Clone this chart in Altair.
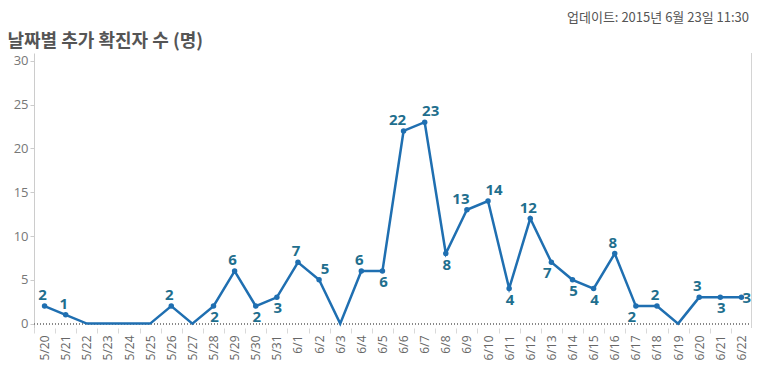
import altair as alt
import pandas as pd

dates = ["5/20", "5/21", "5/22", "5/23", "5/24", "5/25", "5/26", "5/27", "5/28", "5/29",
         "5/30", "5/31", "6/1", "6/2", "6/3", "6/4", "6/5", "6/6", "6/7", "6/8",
         "6/9", "6/10", "6/11", "6/12", "6/13", "6/14", "6/15", "6/16", "6/17", "6/18",
         "6/19", "6/20", "6/21", "6/22"]
cases = [2, 1, 0, 0, 0, 0, 2, 0, 2, 6,
         2, 3, 7, 5, 0, 6, 6, 22, 23, 8,
         13, 14, 4, 12, 7, 5, 4, 8, 2, 2,
         0, 3, 3, 3]
label_place = ["up", "up", "", "", "", "", "up", "", "down", "up",
               "down", "down", "up", "upright", "", "up", "down", "upleft", "upright", "down",
               "upleft", "upright", "down", "up", "downleft", "down", "down", "up", "downleft", "up",
               "", "up", "down", "right"]

df = pd.DataFrame({"date": dates, "cases": cases, "place": label_place})

title_text = "날짜별 추가 확진자 수 (명)"
update_text = "업데이트: 2015년 6월 23일 11:30"

LINE = "#1f6fb1"
LABEL = "#1f6f8e"
KFONT = "Noto Sans CJK KR"
NFONT = "Open Sans"

xenc = alt.X("date:N", sort=dates,
             scale=alt.Scale(type="band", paddingInner=0, paddingOuter=0),
             axis=alt.Axis(title=None, labelAngle=270, labelAlign="right", labelBaseline="middle",
                           labelFont=NFONT, labelFontSize=12, labelColor="#666666",
                           labelPadding=2, domain=False, ticks=True, tickBand="extent",
                           tickColor="#d9d9d9", tickSize=5, grid=False))
xs = alt.X("date:N", sort=dates)
yenc = alt.Y("cases:Q",
             scale=alt.Scale(domain=[-0.5, 30.9], nice=False, zero=False),
             axis=alt.Axis(title=title_text, titleAngle=0, titleX=-27, titleY=-7,
                           titleAlign="left", titleBaseline="alphabetic",
                           titleFont=KFONT, titleFontSize=18, titleFontWeight="bold",
                           titleColor="#555555",
                           values=[0, 5, 10, 15, 20, 25, 30],
                           labelFont=NFONT, labelFontSize=13, labelColor="#777777",
                           labelPadding=2, tickSize=4, tickColor="#cccccc",
                           domainColor="#cccccc", grid=False))

base = alt.Chart(df)

zero = base.mark_rule(color="#888888", strokeDash=[1, 2], strokeWidth=1).encode(
    y=alt.datum(0))
right_border = base.mark_rule(color="#d4d4d4", strokeWidth=1).encode(
    x=alt.value(717.5), y=alt.value(0), y2=alt.value(275))

line = base.mark_line(color=LINE, strokeWidth=2.5).encode(x=xenc, y=yenc)
pts = base.mark_circle(color=LINE, size=30, opacity=1).encode(
    x=xs, y="cases:Q").transform_filter("datum.cases > 0")

def lab(place, **kw):
    return base.mark_text(font=NFONT, fontSize=15, fontWeight="bold", color=LABEL, **kw).encode(
        x=xs, y="cases:Q", text="cases:Q").transform_filter(f"datum.place == '{place}'")

labels = [
    lab("up", baseline="bottom", dy=-3, dx=-2),
    lab("down", baseline="top", dy=4, dx=1),
    lab("upleft", baseline="bottom", dy=-3, dx=-6),
    lab("upright", baseline="bottom", dy=-3, dx=6),
    lab("downleft", baseline="top", dy=4, dx=-4),
    lab("right", baseline="middle", align="left", dx=1, dy=1),
]

chart = alt.layer(zero, right_border, line, pts, *labels).properties(
    width=718, height=275,
    padding={"left": 26, "top": 45, "right": 0, "bottom": 33},
    autosize=alt.AutoSizeParams(type="none"),
    title=alt.TitleParams(update_text, anchor="end", frame="group", orient="top",
                          offset=7, font=KFONT, fontSize=13, fontWeight="normal",
                          color="#555555", dx=-3),
).configure_view(stroke=None)

chart.save("out.html", embed_options={"renderer": "svg", "actions": False})
